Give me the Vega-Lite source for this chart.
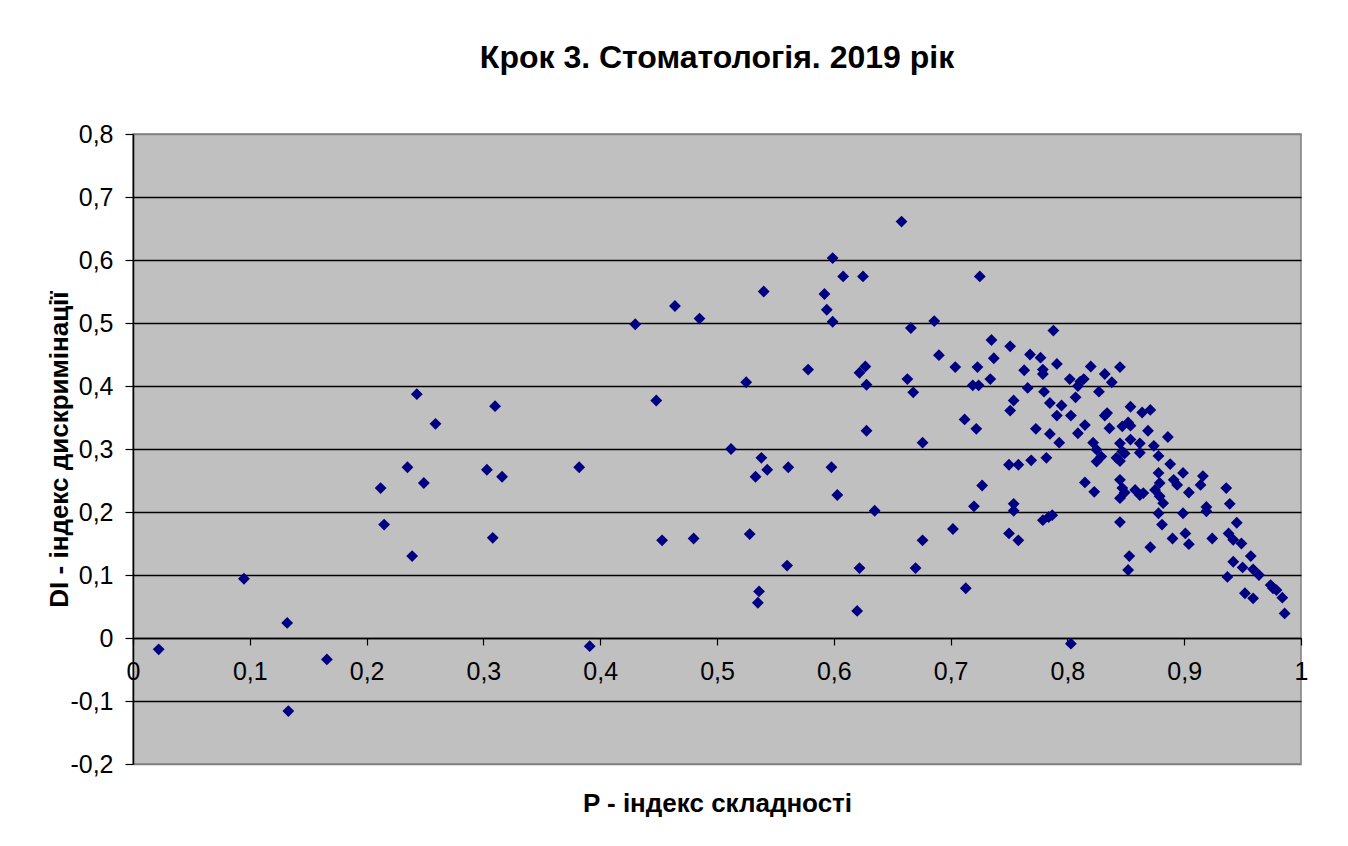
{
  "$schema": "https://vega.github.io/schema/vega-lite/v6.json",
  "width": 1168,
  "height": 630,
  "autosize": {"type": "none"},
  "padding": {"left": 133, "top": 134, "right": 47, "bottom": 82},
  "background": "white",
  "title": {
    "text": "Крок 3. Стоматологія. 2019 рік",
    "font": "Liberation Sans",
    "fontSize": 32,
    "fontWeight": "bold",
    "color": "black",
    "anchor": "middle",
    "baseline": "alphabetic",
    "offset": 22
  },
  "data": {
    "values": [
      {"P": 0.022, "DI": -0.018}, {"P": 0.095, "DI": 0.094}, {"P": 0.132, "DI": 0.024}, {"P": 0.133, "DI": -0.116},
      {"P": 0.166, "DI": -0.034}, {"P": 0.212, "DI": 0.238}, {"P": 0.215, "DI": 0.180}, {"P": 0.235, "DI": 0.271},
      {"P": 0.239, "DI": 0.130}, {"P": 0.243, "DI": 0.387}, {"P": 0.249, "DI": 0.246}, {"P": 0.259, "DI": 0.340},
      {"P": 0.303, "DI": 0.267}, {"P": 0.310, "DI": 0.368}, {"P": 0.308, "DI": 0.159}, {"P": 0.316, "DI": 0.256},
      {"P": 0.382, "DI": 0.271}, {"P": 0.391, "DI": -0.013}, {"P": 0.430, "DI": 0.498}, {"P": 0.448, "DI": 0.377},
      {"P": 0.453, "DI": 0.155}, {"P": 0.464, "DI": 0.527}, {"P": 0.480, "DI": 0.158}, {"P": 0.485, "DI": 0.507},
      {"P": 0.512, "DI": 0.300}, {"P": 0.525, "DI": 0.406}, {"P": 0.528, "DI": 0.165}, {"P": 0.533, "DI": 0.256},
      {"P": 0.536, "DI": 0.074}, {"P": 0.535, "DI": 0.056}, {"P": 0.538, "DI": 0.286}, {"P": 0.540, "DI": 0.550},
      {"P": 0.543, "DI": 0.267}, {"P": 0.560, "DI": 0.115}, {"P": 0.561, "DI": 0.271}, {"P": 0.578, "DI": 0.426},
      {"P": 0.592, "DI": 0.546}, {"P": 0.594, "DI": 0.521}, {"P": 0.599, "DI": 0.502}, {"P": 0.599, "DI": 0.603},
      {"P": 0.598, "DI": 0.271}, {"P": 0.603, "DI": 0.227}, {"P": 0.608, "DI": 0.574}, {"P": 0.625, "DI": 0.574},
      {"P": 0.622, "DI": 0.111}, {"P": 0.620, "DI": 0.043}, {"P": 0.622, "DI": 0.421}, {"P": 0.627, "DI": 0.431},
      {"P": 0.628, "DI": 0.402}, {"P": 0.628, "DI": 0.329}, {"P": 0.635, "DI": 0.202}, {"P": 0.658, "DI": 0.661},
      {"P": 0.663, "DI": 0.411}, {"P": 0.666, "DI": 0.492}, {"P": 0.668, "DI": 0.390}, {"P": 0.670, "DI": 0.111},
      {"P": 0.676, "DI": 0.155}, {"P": 0.676, "DI": 0.310}, {"P": 0.686, "DI": 0.503}, {"P": 0.690, "DI": 0.449},
      {"P": 0.702, "DI": 0.173}, {"P": 0.704, "DI": 0.430}, {"P": 0.713, "DI": 0.079}, {"P": 0.712, "DI": 0.347},
      {"P": 0.719, "DI": 0.401}, {"P": 0.720, "DI": 0.209}, {"P": 0.722, "DI": 0.332}, {"P": 0.724, "DI": 0.401},
      {"P": 0.723, "DI": 0.430}, {"P": 0.725, "DI": 0.574}, {"P": 0.727, "DI": 0.242}, {"P": 0.734, "DI": 0.411},
      {"P": 0.735, "DI": 0.473}, {"P": 0.737, "DI": 0.444}, {"P": 0.750, "DI": 0.166}, {"P": 0.751, "DI": 0.463},
      {"P": 0.751, "DI": 0.361}, {"P": 0.754, "DI": 0.377}, {"P": 0.750, "DI": 0.275}, {"P": 0.754, "DI": 0.213},
      {"P": 0.754, "DI": 0.202}, {"P": 0.758, "DI": 0.155}, {"P": 0.758, "DI": 0.275}, {"P": 0.763, "DI": 0.425},
      {"P": 0.766, "DI": 0.397}, {"P": 0.768, "DI": 0.450}, {"P": 0.769, "DI": 0.282}, {"P": 0.773, "DI": 0.332},
      {"P": 0.777, "DI": 0.445}, {"P": 0.779, "DI": 0.426}, {"P": 0.779, "DI": 0.419}, {"P": 0.780, "DI": 0.391},
      {"P": 0.779, "DI": 0.187}, {"P": 0.782, "DI": 0.286}, {"P": 0.784, "DI": 0.192}, {"P": 0.787, "DI": 0.195},
      {"P": 0.785, "DI": 0.373}, {"P": 0.785, "DI": 0.324}, {"P": 0.788, "DI": 0.488}, {"P": 0.791, "DI": 0.435},
      {"P": 0.791, "DI": 0.353}, {"P": 0.793, "DI": 0.310}, {"P": 0.795, "DI": 0.369}, {"P": 0.803, "DI": -0.009},
      {"P": 0.802, "DI": 0.411}, {"P": 0.803, "DI": 0.353}, {"P": 0.807, "DI": 0.382}, {"P": 0.809, "DI": 0.325},
      {"P": 0.820, "DI": 0.431}, {"P": 0.845, "DI": 0.430}, {"P": 0.832, "DI": 0.419}, {"P": 0.838, "DI": 0.406},
      {"P": 0.811, "DI": 0.407}, {"P": 0.814, "DI": 0.411}, {"P": 0.809, "DI": 0.400}, {"P": 0.827, "DI": 0.391},
      {"P": 0.854, "DI": 0.367}, {"P": 0.864, "DI": 0.358}, {"P": 0.871, "DI": 0.362}, {"P": 0.834, "DI": 0.357},
      {"P": 0.832, "DI": 0.353}, {"P": 0.815, "DI": 0.338}, {"P": 0.836, "DI": 0.333}, {"P": 0.847, "DI": 0.336},
      {"P": 0.852, "DI": 0.342}, {"P": 0.854, "DI": 0.337}, {"P": 0.869, "DI": 0.329}, {"P": 0.886, "DI": 0.319},
      {"P": 0.822, "DI": 0.310}, {"P": 0.825, "DI": 0.299}, {"P": 0.829, "DI": 0.288}, {"P": 0.825, "DI": 0.280},
      {"P": 0.845, "DI": 0.309}, {"P": 0.854, "DI": 0.315}, {"P": 0.862, "DI": 0.309}, {"P": 0.847, "DI": 0.296},
      {"P": 0.842, "DI": 0.286}, {"P": 0.845, "DI": 0.281}, {"P": 0.849, "DI": 0.293}, {"P": 0.862, "DI": 0.294},
      {"P": 0.874, "DI": 0.305}, {"P": 0.878, "DI": 0.289}, {"P": 0.888, "DI": 0.276}, {"P": 0.878, "DI": 0.262},
      {"P": 0.879, "DI": 0.246}, {"P": 0.875, "DI": 0.235}, {"P": 0.879, "DI": 0.225}, {"P": 0.882, "DI": 0.214},
      {"P": 0.891, "DI": 0.251}, {"P": 0.894, "DI": 0.243}, {"P": 0.899, "DI": 0.262}, {"P": 0.904, "DI": 0.231},
      {"P": 0.914, "DI": 0.243}, {"P": 0.916, "DI": 0.257}, {"P": 0.936, "DI": 0.238}, {"P": 0.939, "DI": 0.213},
      {"P": 0.919, "DI": 0.208}, {"P": 0.919, "DI": 0.201}, {"P": 0.899, "DI": 0.198}, {"P": 0.815, "DI": 0.247},
      {"P": 0.823, "DI": 0.232}, {"P": 0.845, "DI": 0.251}, {"P": 0.847, "DI": 0.238}, {"P": 0.849, "DI": 0.231},
      {"P": 0.845, "DI": 0.222}, {"P": 0.858, "DI": 0.235}, {"P": 0.862, "DI": 0.227}, {"P": 0.865, "DI": 0.230},
      {"P": 0.878, "DI": 0.198}, {"P": 0.881, "DI": 0.180}, {"P": 0.845, "DI": 0.184}, {"P": 0.890, "DI": 0.158},
      {"P": 0.901, "DI": 0.166}, {"P": 0.904, "DI": 0.149}, {"P": 0.924, "DI": 0.158}, {"P": 0.945, "DI": 0.183},
      {"P": 0.938, "DI": 0.166}, {"P": 0.942, "DI": 0.156}, {"P": 0.949, "DI": 0.150}, {"P": 0.871, "DI": 0.144},
      {"P": 0.853, "DI": 0.130}, {"P": 0.852, "DI": 0.108}, {"P": 0.957, "DI": 0.130}, {"P": 0.942, "DI": 0.121},
      {"P": 0.950, "DI": 0.112}, {"P": 0.959, "DI": 0.109}, {"P": 0.964, "DI": 0.100}, {"P": 0.937, "DI": 0.097},
      {"P": 0.974, "DI": 0.084}, {"P": 0.976, "DI": 0.079}, {"P": 0.979, "DI": 0.076}, {"P": 0.952, "DI": 0.071},
      {"P": 0.959, "DI": 0.063}, {"P": 0.984, "DI": 0.064}, {"P": 0.986, "DI": 0.039}
    ]
  },
  "mark": {"type": "point", "shape": "diamond", "filled": true, "size": 140, "color": "#000080", "opacity": 1, "strokeWidth": 0},
  "encoding": {
    "x": {
      "field": "P",
      "type": "quantitative",
      "scale": {"domain": [0, 1], "nice": false, "zero": false},
      "axis": {
        "title": "P - індекс складності",
        "offset": -126,
        "values": [0, 0.1, 0.2, 0.3, 0.4, 0.5, 0.6, 0.7, 0.8, 0.9, 1],
        "grid": false,
        "domainColor": "black",
        "domainWidth": 1.5,
        "tickColor": "black",
        "tickWidth": 1.2,
        "tickSize": 7,
        "labelFont": "Liberation Sans",
        "labelFontSize": 25,
        "labelColor": "black",
        "labelPadding": 14,
        "labelFlush": false,
        "labelOverlap": false,
        "labelExpr": "replace(replace(format(datum.value, '.1~f'), '.', ','), '−', '-')",
        "titleFont": "Liberation Sans",
        "titleFontSize": 26,
        "titleFontWeight": "bold",
        "titleColor": "black",
        "titlePadding": 106
      }
    },
    "y": {
      "field": "DI",
      "type": "quantitative",
      "scale": {"domain": [-0.2, 0.8], "nice": false, "zero": false},
      "axis": {
        "title": "DI - індекс дискримінації",
        "values": [-0.2, -0.1, 0, 0.1, 0.2, 0.3, 0.4, 0.5, 0.6, 0.7, 0.8],
        "grid": true,
        "gridColor": {"condition": {"test": "datum.value === 0.8 || datum.value === -0.2", "value": "#808080"}, "value": "black"},
        "gridWidth": 1.5,
        "gridOpacity": 1,
        "domainColor": "black",
        "domainWidth": 1.5,
        "tickColor": "black",
        "tickWidth": 1.2,
        "tickSize": 8,
        "labelFont": "Liberation Sans",
        "labelFontSize": 25,
        "labelColor": "black",
        "labelPadding": 12,
        "labelFlush": false,
        "labelOverlap": false,
        "labelExpr": "replace(replace(format(datum.value, '.1~f'), '.', ','), '−', '-')",
        "titleFont": "Liberation Sans",
        "titleFontSize": 26,
        "titleFontWeight": "bold",
        "titleColor": "black",
        "titlePadding": -3
      }
    }
  },
  "config": {
    "view": {"fill": "#C0C0C0", "stroke": "#808080", "strokeWidth": 1.5}
  }
}
